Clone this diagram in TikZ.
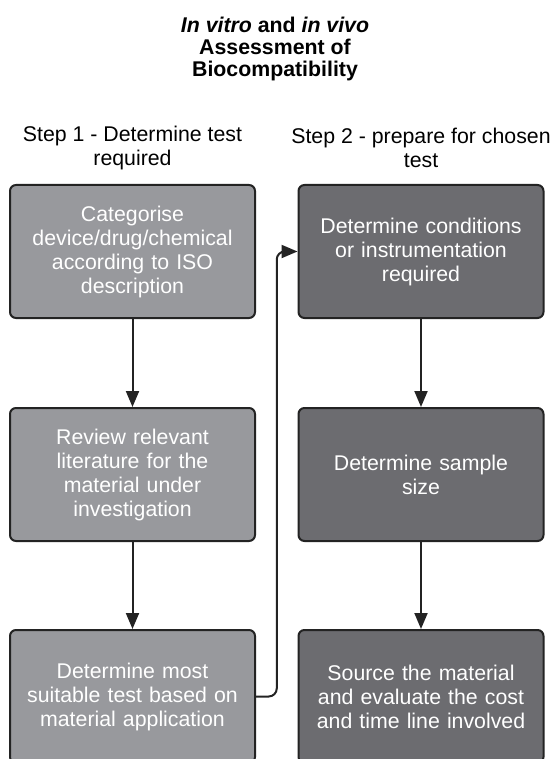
\documentclass[tikz,border=0pt]{standalone}
\usepackage{fontspec}
\setmainfont{Liberation Sans}
\usetikzlibrary{arrows.meta}

\definecolor{steplight}{RGB}{152,153,157}
\definecolor{stepdark}{RGB}{108,108,112}
\definecolor{edge}{RGB}{35,35,35}

\tikzset{
  stepbox/.style={draw=edge, line width=1pt, rounded corners=3pt,
    minimum width=122.5pt, minimum height=66.5pt, text width=115pt,
    align=center, text=white, font=\fontsize{10.65}{12}\selectfont},
  flow/.style={draw=edge, line width=1pt, -{Triangle[length=8pt,width=6.5pt]}},
  heading/.style={align=center, inner sep=0pt, font=\fontsize{10.65}{12}\selectfont}
}

\begin{document}
\begin{tikzpicture}[x=0.5pt,y=-0.5pt]
                \useasboundingbox (0,0) rectangle (552,759);
                \clip (0,0) rectangle (552,759);

                \node[heading, font=\bfseries\fontsize{10.65}{11}\selectfont] (title) at (275,49)
                    {\textit{In vitro} and \textit{in vivo}\\Assessment of\\Biocompatibility};
                \node[heading] (stepA) at (132.5,148) {Step 1 - Determine test\\required};
                \node[heading] (stepB) at (421,148) {Step 2 - prepare for chosen\\test};

                % step 1 column
                \node[stepbox, fill=steplight] (lt1) at (132.5,251.5)
                    {Categorise\\device/drug/chemical\\according to ISO\\description};
                \node[stepbox, fill=steplight] (lt2) at (132.5,474.5)
                    {Review relevant\\literature for the\\material under\\investigation};
                \node[stepbox, fill=steplight] (lt3) at (132.5,696.5)
                    {Determine most\\suitable test based on\\material application};

                % step 2 column
                \node[stepbox, fill=stepdark] (rt1) at (421,251.5)
                    {Determine conditions\\or instrumentation\\required};
                \node[stepbox, fill=stepdark] (rt2) at (421,474.5)
                    {Determine sample\\size};
                \node[stepbox, fill=stepdark] (rt3) at (421,696.5)
                    {Source the material\\and evaluate the cost\\and time line involved};

                \draw[flow] (lt1) -- (lt2);
                \draw[flow] (lt2) -- (lt3);
                \draw[flow] (rt1) -- (rt2);
                \draw[flow] (rt2) -- (rt3);

                \path (lt1.east) -- (rt1.west) coordinate[midway] (bend);
                \draw[flow, rounded corners=4pt] (lt3.east) -| (bend) -- (rt1.west);
            \end{tikzpicture}
\end{document}
